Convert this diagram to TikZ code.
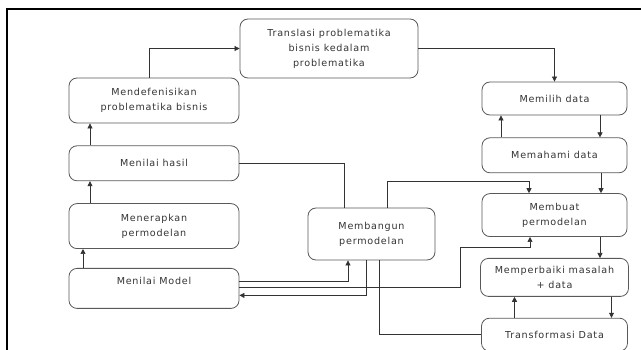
\documentclass[tikz,border=0pt]{standalone}
\usepackage{fontspec}
\newfontfamily\boxfont[LetterSpace=8]{DejaVu Sans}
\usepackage{tikz}
\usepackage{xcolor}
\usetikzlibrary{positioning,arrows.meta}

\begin{document}
\begin{tikzpicture}
[
x=1pt, y=-1pt,
box-a/.style={rectangle, rounded corners=8pt, draw=black!65, line width=0.8pt,
  align=center, inner sep=0pt, font=\boxfont\fontsize{9.6}{15}\selectfont, text=black!80},
line-a/.style={draw=black!80, line width=0.7pt},
arrow-a/.style={line-a, -{Triangle[length=5pt,width=5pt]}}
]
\useasboundingbox (0,0) rectangle (641,350);
% frame
\draw [line width=2pt] (6,9) -- (641,9);
\draw [line width=2pt] (7,8) -- (7,350);

% left column
\node (def)    [box-a, minimum width=170pt, minimum height=45pt] at (154,100.5)  {Mendefenisikan\\problematika bisnis};
\node (hasil)  [box-a, minimum width=170pt, minimum height=35pt, below = 22pt of def]   {Menilai hasil};
\node (terap)  [box-a, minimum width=170pt, minimum height=45pt, below = 22pt of hasil] {Menerapkan\\permodelan};
\node (model)  [box-a, minimum width=170pt, minimum height=40pt, below = 19pt of terap] {Menilai Model\\\mbox{}};

% middle
\node (trans)  [box-a, minimum width=178pt, minimum height=59pt] at (329,48.5)   {Translasi problematika\\bisnis kedalam\\problematika};
\node (bangun) [box-a, minimum width=127pt, minimum height=52pt] at (371.5,234)  {Membangun\\permodelan};

% right column
\node (pilih)  [box-a, minimum width=145pt, minimum height=33pt] at (554.5,98.5) {Memilih data};
\node (paham)  [box-a, minimum width=145pt, minimum height=35pt, below = 22pt of pilih] {Memahami data};
\node (buat)   [box-a, minimum width=145pt, minimum height=43pt, below = 20pt of paham] {Membuat\\permodelan};
\node (baiki)  [box-a, minimum width=148pt, minimum height=38pt, below = 21pt of buat]  {Memperbaiki masalah\\+ data};
\node (tdata)  [box-a, minimum width=146pt, minimum height=33pt, below = 21pt of baiki] {Transformasi Data};

% left column arrows
\draw [arrow-a] ([xshift=-64pt]hasil.north) -- ([xshift=-64pt]def.south);
\draw [arrow-a] ([xshift=-64pt]terap.north) -- ([xshift=-64pt]hasil.south);
\draw [arrow-a] ([xshift=-71pt]model.north) -- ([xshift=-71pt]terap.south);
\draw [arrow-a] ([xshift=-5pt]def.north) |- (trans.west);
\draw [arrow-a] (trans.east) -| (pilih.north);

% right column arrows
\draw [arrow-a] ([xshift=45.5pt]pilih.south) -- ([xshift=45.5pt]paham.north);
\draw [arrow-a] ([xshift=-53.5pt]paham.north) -- ([xshift=-53.5pt]pilih.south);
\draw [arrow-a] ([xshift=46.5pt]paham.south) -- ([xshift=46.5pt]paham.south |- buat.north);
\draw [arrow-a] ([xshift=45.5pt]buat.south) -- ([xshift=45.5pt]buat.south |- baiki.north);
\draw [arrow-a] ([xshift=57pt]baiki.south) -- ([xshift=57pt]baiki.south |- tdata.north);
\draw [arrow-a] ([xshift=-40pt]tdata.north) -- ([xshift=-40pt]tdata.north |- baiki.south);

% around Membangun
\coordinate (k1) at (460,247);
\draw [line-a]  (hasil.east) -| ([xshift=-27.5pt]bangun.north);
\draw [arrow-a] ([xshift=15.5pt]bangun.north) -- ++(0,-26) -| ([xshift=-25.5pt]buat.north);
\draw [arrow-a] ([yshift=7pt]model.east) -| ([xshift=-23.5pt]bangun.south);
\draw [arrow-a] ([yshift=1pt]model.east) -| (k1) -| ([xshift=-24.5pt]buat.south);
\draw [arrow-a] ([xshift=-5.5pt]bangun.south) |- ([yshift=-7pt]model.east);
\draw [line-a]  ([xshift=7.5pt]bangun.south) |- (tdata.west);
\end{tikzpicture}
\end{document}
